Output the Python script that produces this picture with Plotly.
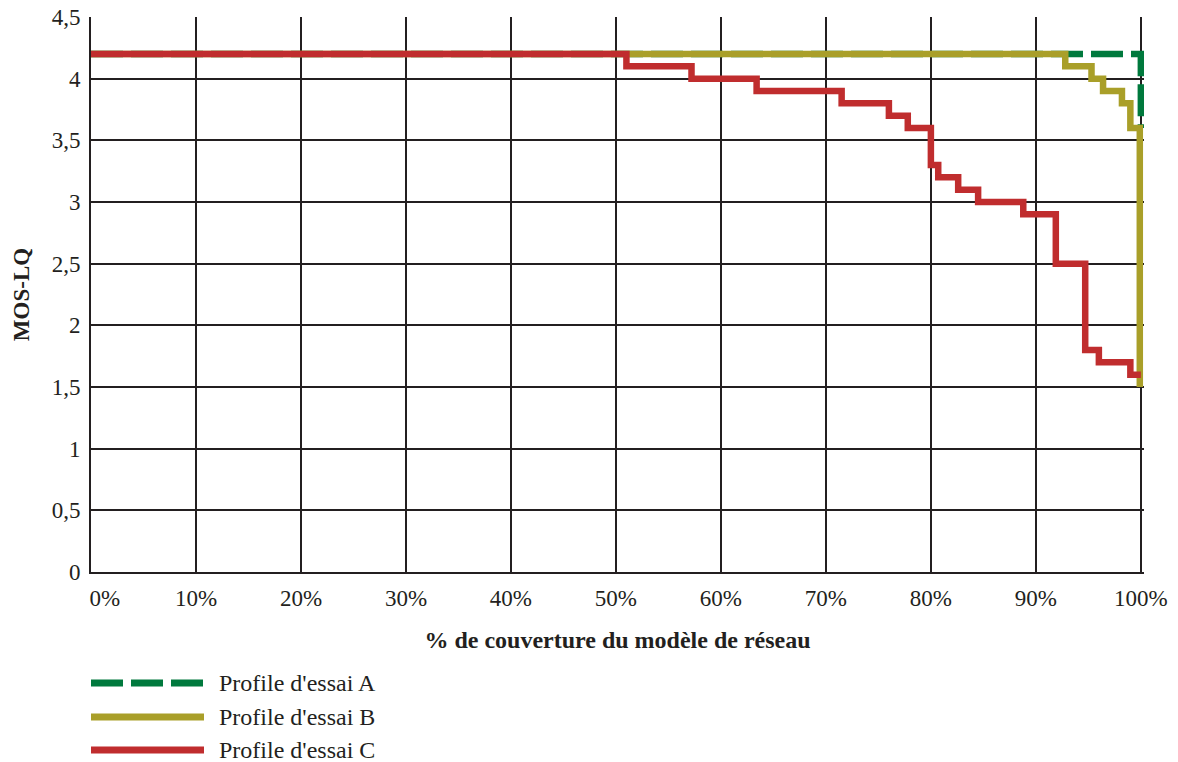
import plotly.graph_objects as go

# Coverage (%) where each step starts, and MOS-LQ value
a_x = [0, 100, 100]
a_y = [4.2, 4.2, 3.6]

b_x = [0, 92.8, 95.3, 96.4, 98.2, 99.0, 99.9, 99.9]
b_y = [4.2, 4.1, 4.0, 3.9, 3.8, 3.6, 3.6, 1.5]

c_x = [0, 51.0, 57.2, 63.4, 71.5, 76.0, 77.8, 80.0, 80.7, 82.6, 84.5, 88.8, 91.9, 94.7, 96.0, 99.0, 100]
c_y = [4.2, 4.1, 4.0, 3.9, 3.8, 3.7, 3.6, 3.3, 3.2, 3.1, 3.0, 2.9, 2.5, 1.8, 1.7, 1.6, 1.6]

names = ["Profile d'essai A", "Profile d'essai B", "Profile d'essai C"]
colors = ["#00793D", "#A99F29", "#C02D2E"]
dashes = ["32px,8px", "solid", "solid"]

x_ticks = list(range(0, 101, 10))
x_labels = [("\u2002\u2002\u2009" if v == 0 else "") + f"{v}%" for v in x_ticks]
y_ticks = [0, 0.5, 1, 1.5, 2, 2.5, 3, 3.5, 4, 4.5]

FONT = "Liberation Serif"
INK = "#231f20"

fig = go.Figure()
for xs, ys, nm, col, ds in zip([a_x, b_x, c_x], [a_y, b_y, c_y], names, colors, dashes):
    fig.add_trace(go.Scatter(x=xs, y=ys, mode="lines", name=nm, showlegend=False,
                             line=dict(color=col, width=6.5, dash=ds, shape="hv")))

# Legend drawn below the plot (long line samples, as in the original)
L, R, T, B = 91, 34, 17, 190
W, H = 1178 - L - R, 762 - T - B
leg_rows_px = [683, 717, 750]
for nm, col, ds, py in zip(names, colors, dashes, leg_rows_px):
    yp = (762 - B - py) / H
    fig.add_shape(type="line", xref="paper", yref="paper",
                  x0=0, x1=(204 - L) / W, y0=yp, y1=yp,
                  line=dict(color=col, width=7, dash=ds))
    fig.add_annotation(xref="paper", yref="paper", x=(217 - L) / W, y=yp,
                       xanchor="left", yanchor="middle", text=nm, showarrow=False,
                       font=dict(family=FONT, size=24, color=INK))

fig.update_layout(
    width=1178, height=762,
    margin=dict(l=L, r=R, t=T, b=B),
    paper_bgcolor="white", plot_bgcolor="white",
    separators=", ",
    font=dict(family=FONT, size=23, color=INK),
    showlegend=False,
    xaxis=dict(range=[0, 100.3], tickvals=x_ticks, ticktext=x_labels,
               showgrid=True, gridcolor=INK, gridwidth=2,
               showline=True, linecolor=INK, linewidth=2,
               ticks="", zeroline=False, automargin=False,
               ticklabelstandoff=4,
               tickfont=dict(family=FONT, size=23, color=INK),
               title=dict(text="<b>% de couverture du modèle de réseau</b>",
                          font=dict(family=FONT, size=24, color=INK), standoff=22)),
    yaxis=dict(range=[0, 4.5], tickvals=y_ticks,
               showgrid=True, gridcolor=INK, gridwidth=2,
               showline=True, linecolor=INK, linewidth=2,
               ticks="", zeroline=False, automargin=False,
               ticklabelstandoff=4,
               tickfont=dict(family=FONT, size=23, color=INK),
               title=dict(text="<b>MOS-LQ</b>", font=dict(family=FONT, size=23, color=INK),
                          standoff=16)),
)

fig.write_html("out.html")
